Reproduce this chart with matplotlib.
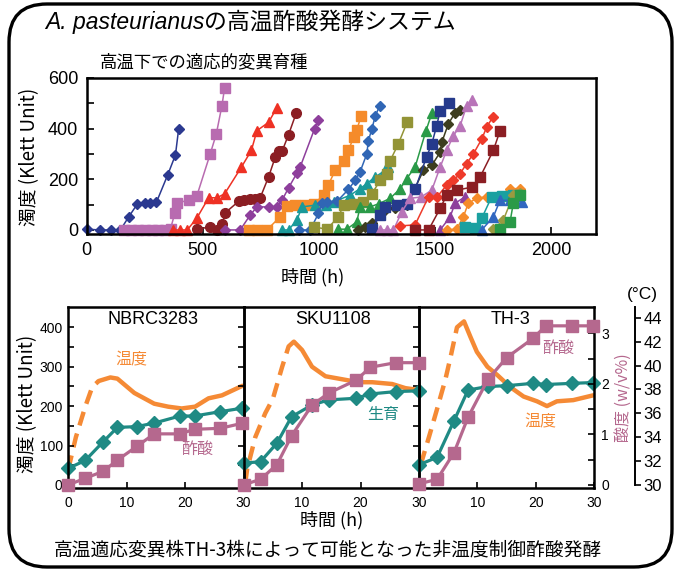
import matplotlib
matplotlib.use("Agg")
import matplotlib.pyplot as plt
from matplotlib.patches import FancyBboxPatch
from matplotlib.transforms import IdentityTransform

W, H = 678, 570
LAT = ['Liberation Sans', 'Noto Sans CJK JP']
JP = ['Noto Sans CJK JP', 'Liberation Sans']
plt.rcParams['font.family'] = LAT

# ---------------- top chart: adaptive breeding lines (hours, Klett) ----------------
s01_h = [3, 57, 105, 146, 182, 218, 254, 275, 301, 350, 383, 397]
s01_k = [3, 0, 0, 0, 52, 101, 105, 105, 109, 218, 296, 400]
s02_h = [160, 190, 220, 250, 280, 310, 340, 362, 380, 390, 440, 475, 533, 559, 583, 595]
s02_k = [0, 0, 0, 0, 0, 0, 0, 5, 65, 107, 117, 134, 301, 379, 490, 562]
s03_h = [374, 404, 434, 476, 526, 562, 595, 667, 710, 734, 784, 820]
s03_k = [0, 0, 0, 48, 127, 127, 143, 248, 314, 392, 425, 483]
s04_h = [476, 533, 562, 584, 598, 655, 677, 705, 727, 748, 784, 813, 831, 842, 870, 903]
s04_k = [3, 12, 0, 22, 68, 113, 117, 121, 122, 127, 209, 288, 310, 310, 376, 461]
s05_h = [598, 662, 705, 734, 784, 820, 842, 870, 906, 920, 982, 999]
s05_k = [0, 0, 59, 91, 91, 91, 117, 166, 224, 248, 399, 434]
s06_h = [698, 734, 777, 834, 863, 900, 940, 978, 1021, 1042, 1071, 1107, 1128, 1150, 1164, 1183]
s06_k = [0, 0, 0, 52, 95, 99, 99, 102, 137, 179, 235, 274, 314, 366, 395, 451]
s07_h = [842, 870, 906, 928, 985, 1030, 1064, 1135, 1178, 1207, 1243, 1286, 1300]
s07_k = [0, 0, 39, 91, 98, 98, 111, 137, 163, 183, 209, 235, 250]
s08_h = [913, 963, 999, 1014, 1035, 1080, 1128, 1157, 1178, 1207, 1214, 1229, 1243, 1262]
s08_k = [0, 0, 65, 105, 111, 114, 160, 196, 229, 300, 353, 399, 448, 490]
s09_h = [978, 1035, 1085, 1107, 1150, 1190, 1229, 1265, 1293, 1308, 1343, 1382]
s09_k = [12, 3, 52, 98, 104, 109, 143, 196, 222, 274, 340, 428]
s10_h = [1085, 1121, 1164, 1178, 1221, 1260, 1308, 1351, 1379, 1415, 1462, 1487]
s10_k = [3, 3, 32, 91, 91, 104, 125, 163, 203, 248, 392, 460]
s11_h = [1171, 1200, 1229, 1286, 1330, 1380, 1451, 1487, 1523, 1530, 1558, 1587, 1609]
s11_k = [0, 10, 26, 78, 88, 99, 235, 255, 307, 346, 418, 463, 473]
s12_h = [1229, 1265, 1286, 1336, 1380, 1415, 1465, 1487, 1508, 1523, 1561]
s12_k = [3, 59, 91, 98, 104, 160, 290, 340, 411, 471, 501]
s13_h = [1265, 1293, 1322, 1358, 1394, 1440, 1487, 1523, 1551, 1580, 1609, 1637, 1662]
s13_k = [0, 0, 0, 72, 125, 130, 157, 248, 314, 372, 411, 490, 512]
s14_h = [1351, 1415, 1473, 1510, 1551, 1580, 1609, 1637, 1666, 1702, 1723, 1749]
s14_k = [16, 20, 131, 131, 177, 197, 222, 262, 300, 359, 405, 445]
s15_h = [1415, 1473, 1523, 1551, 1594, 1659, 1695, 1752, 1781]
s15_k = [0, 0, 85, 137, 157, 169, 209, 314, 392]
s16_h = [1523, 1566, 1587, 1630]
s16_k = [0, 52, 105, 131]
s17_h = [1551, 1594, 1623, 1644, 1680, 1723, 1780, 1824, 1867]
s17_k = [0, 3, 52, 105, 125, 131, 135, 163, 163]
s18_h = [1630, 1673, 1702, 1745, 1790, 1838]
s18_k = [12, 6, 46, 131, 135, 137]
s19_h = [1702, 1752, 1781, 1824, 1874]
s19_k = [0, 52, 117, 117, 111]
s20_h = [1752, 1795, 1838, 1867]
s20_k = [3, 39, 137, 145]
s21_h = [1781, 1824, 1838, 1867]
s21_k = [3, 32, 105, 137]

top_x_ticks = [0, 500, 1000, 1500, 2000]
top_y_ticks = [0, 200, 400, 600]

# ---------------- bottom panels: fermentation profiles ----------------
strains = ['NBRC3283', 'SKU1108', 'TH-3']

t_nbrc = [0, 2.9, 6.0, 8.4, 11.7, 14.7, 19.1, 21.6, 26.0, 29.8]
growth_nbrc = [42, 62, 110, 146, 148, 157, 175, 175, 186, 195]
acid_nbrc = [0.0, 0.13, 0.27, 0.49, 0.76, 1.01, 1.01, 1.10, 1.12, 1.22]
temp_t_nbrc = [0.0, 1.3, 2.9, 4.1, 5.2, 7.2, 8.4, 11.3, 14.7, 17.1, 19.4, 21.7, 24.0, 26.3, 29.8]
temp_nbrc = [31.3, 34.0, 36.55, 38.2, 38.7, 39.0, 38.9, 37.7, 36.8, 36.55, 36.4, 36.55, 37.25, 37.5, 38.3]

t_sku = [0, 2.9, 5.7, 8.2, 11.7, 14.6, 19.2, 21.7, 26.0, 30.0]
growth_sku = [55, 59, 106, 173, 203, 216, 220, 231, 237, 239]
acid_sku = [0.0, 0.11, 0.40, 0.97, 1.58, 1.82, 2.07, 2.33, 2.42, 2.42]
temp_t_sku = [0.3, 0.6, 2.0, 3.7, 5.0, 6.6, 7.7, 8.6, 10.0, 11.7, 14.0, 17.4, 19.7, 22.0, 25.4, 27.7, 30.0]
temp_sku = [30.2, 31.3, 34.0, 36.0, 37.2, 39.9, 41.6, 42.0, 41.3, 39.9, 39.1, 38.8, 38.6, 38.6, 38.45, 38.1, 37.95]

t_th3 = [0, 3.1, 6.0, 8.4, 11.8, 15.0, 19.5, 21.7, 26.2, 29.8]
growth_th3 = [51, 70, 163, 241, 250, 252, 258, 255, 258, 260]
acid_th3 = [0.02, 0.11, 0.64, 1.34, 2.09, 2.52, 2.90, 3.15, 3.15, 3.15]
temp_t_th3 = [0.3, 1.7, 3.0, 4.5, 5.4, 6.5, 7.7, 8.8, 9.9, 11.7, 13.4, 15.6, 17.9, 20.2, 21.9, 23.6, 26.4, 29.8]
temp_th3 = [31.7, 34.0, 36.2, 38.8, 40.7, 43.2, 43.7, 42.4, 41.15, 39.9, 39.2, 38.2, 37.4, 37.0, 36.6, 37.0, 37.1, 37.5]

# controller ramps (dashed) end at these times
ramp_end = [5.2, 8.6, 7.7]

klett_ticks = [0, 100, 200, 300, 400]
acid_ticks = [0, 1, 2, 3]
temp_ticks = [30, 32, 34, 36, 38, 40, 42, 44]

C_GROWTH = '#1f8a84'
C_ACID = '#b5688e'
C_TEMP = '#f58a35'

fig = plt.figure(figsize=(W / 100, H / 100), dpi=100)


def box(l, t, r, b):
    return [l / W, 1 - b / H, (r - l) / W, (b - t) / H]


def ftext(x, y, s, **kw):
    return fig.text(x / W, 1 - y / H, s, **kw)


# rounded frame
frame = FancyBboxPatch((9, 3), 663, 563, boxstyle="round,pad=0,rounding_size=38",
                       transform=IdentityTransform(), fill=False, ec='black', lw=2.4)
fig.patches.append(frame)

# ---------- top chart ----------
ax = fig.add_axes(box(86.5, 78, 595.5, 234))
series = [
    (s01_h, s01_k, 'D', '#2b3990', 5.5),
    (s02_h, s02_k, 's', '#b86bb0', 6.5),
    (s03_h, s03_k, '^', '#ee3124', 7.5),
    (s04_h, s04_k, 'o', '#8b1e23', 7.0),
    (s05_h, s05_k, 'D', '#8e3f9c', 5.5),
    (s06_h, s06_k, 's', '#f58b2a', 6.5),
    (s07_h, s07_k, '^', '#1a9a9a', 7.5),
    (s08_h, s08_k, 'D', '#3066b5', 5.5),
    (s09_h, s09_k, 's', '#939436', 6.5),
    (s10_h, s10_k, '^', '#2a9a48', 7.5),
    (s11_h, s11_k, 'D', '#3d3d1f', 5.5),
    (s12_h, s12_k, 's', '#253a8c', 6.5),
    (s13_h, s13_k, '^', '#b874b8', 7.5),
    (s14_h, s14_k, 'D', '#ee3a2a', 5.5),
    (s15_h, s15_k, 's', '#8b1e23', 6.5),
    (s16_h, s16_k, '^', '#8e3f9c', 7.5),
    (s17_h, s17_k, 'D', '#f58b2a', 5.5),
    (s18_h, s18_k, 's', '#1aa0a0', 6.5),
    (s19_h, s19_k, '^', '#3066c0', 7.5),
    (s20_h, s20_k, 'D', '#9a9a40', 5.5),
    (s21_h, s21_k, 's', '#2a9a48', 6.5),
]
for hx, ky, mk, col, ms in series:
    ax.plot(hx, ky, marker=mk, color=col, ms=ms, lw=1.1, mec=col, mfc=col, clip_on=False)
ax.set_xlim(0, 2192)
ax.set_ylim(-16, 600)
ax.set_xticks(top_x_ticks)
ax.set_yticks(top_y_ticks)
ax.set_yticks([100, 300, 500], minor=True)
ax.tick_params(direction='in', length=5, width=1.2, labelsize=13, pad=6)
ax.tick_params(which='minor', direction='in', length=5, width=1.2)
for sp in ax.spines.values():
    sp.set_linewidth(1.8)

# ---------- bottom panels ----------
lefts = [68.3, 243.6, 419.0, 594.3]
growths = [growth_nbrc, growth_sku, growth_th3]
acids = [acid_nbrc, acid_sku, acid_th3]
times = [t_nbrc, t_sku, t_th3]
temp_ts = [temp_t_nbrc, temp_t_sku, temp_t_th3]
temps = [temp_nbrc, temp_sku, temp_th3]
title_x = [14.5, 15.3, 15.6]

K_LO, K_HI = -8, 452
K_PER_ACID = 128.3
K_PER_DEG = 30.33

for i in range(3):
    a = fig.add_axes(box(lefts[i], 307, lefts[i + 1], 488))
    tax = a.twinx()
    cax = a.twinx()
    a.set_zorder(2)
    a.patch.set_visible(False)
    tax.set_zorder(1)
    cax.set_zorder(3)

    a.set_xlim(0, 30)
    a.set_ylim(K_LO, K_HI)
    cax.set_ylim(K_LO / K_PER_ACID, K_HI / K_PER_ACID)
    tax.set_ylim(30 + K_LO / K_PER_DEG, 30 + K_HI / K_PER_DEG)

    # temperature: dashed ramp, then solid
    tt, tv = temp_ts[i], temps[i]
    ramp = [j for j, x in enumerate(tt) if x <= ramp_end[i]]
    n = ramp[-1] + 1
    tax.plot(tt[:n], tv[:n], color=C_TEMP, lw=3.2, dashes=(3.2, 1.9), solid_capstyle='butt')
    tax.plot(tt[n - 1:], tv[n - 1:], color=C_TEMP, lw=3.2, solid_capstyle='round')

    a.plot(times[i], growths[i], color=C_GROWTH, lw=2.3, marker='D', ms=7.5, mec=C_GROWTH,
           mfc=C_GROWTH, clip_on=False)
    cax.plot(times[i], acids[i], color=C_ACID, lw=2.3, marker='s', ms=9, mec=C_ACID,
             mfc=C_ACID, clip_on=False)

    a.text(title_x[i], 419, strains[i], ha='center', va='center', fontsize=13)

    # x ticks
    a.set_xticks([0, 10, 20, 30] if i == 0 else [10, 20, 30])
    a.tick_params(axis='x', direction='in', length=4, width=1.2, labelsize=10, pad=6)

    # y ticks
    a.set_yticks(klett_ticks)
    a.set_yticks([50, 150, 250, 350], minor=True)
    if i == 0:
        a.tick_params(axis='y', which='both', direction='in', length=4, width=1.2,
                      left=True, right=True, labelleft=True, labelsize=10, pad=4)
    elif i == 1:
        a.tick_params(axis='y', which='both', direction='in', length=4, width=1.2,
                      left=False, right=True, labelleft=False)
    else:
        a.tick_params(axis='y', which='both', left=False, right=False, labelleft=False)

    for sp in a.spines.values():
        sp.set_linewidth(1.8)
    for sp in tax.spines.values():
        sp.set_visible(False)
    for sp in cax.spines.values():
        sp.set_visible(False)
    tax.set_yticks([])
    cax.set_yticks([])

    if i == 2:
        cax.set_yticks(acid_ticks)
        cax.set_yticks([0.5, 1.5, 2.5], minor=True)
        cax.tick_params(axis='y', which='both', direction='in', length=4, width=1.2,
                        labelsize=10, pad=5)
        cax.set_ylabel('酸度 (w/v%)', color=C_ACID, fontsize=11.5, family=JP, labelpad=4)

        tax.spines['right'].set_visible(True)
        tax.spines['right'].set_position(('outward', 29.3))
        tax.spines['right'].set_linewidth(1.4)
        tax.spines['right'].set_bounds(30, 44.9)
        tax.set_yticks(temp_ticks)
        tax.tick_params(axis='y', direction='out', length=4, width=1.2, labelsize=12, pad=2)

    if i == 0:
        a.text(10.8, 318, '温度', color=C_TEMP, fontsize=11.5, family=JP, ha='center', va='center')
        a.text(22.0, 89, '酢酸', color=C_ACID, fontsize=11.5, family=JP, ha='center', va='center')
    elif i == 1:
        a.text(23.8, 178, '生育', color=C_GROWTH, fontsize=11.5, family=JP, ha='center', va='center')
    else:
        a.text(23.8, 347, '酢酸', color=C_ACID, fontsize=11.5, family=JP, ha='center', va='center')
        a.text(20.7, 161, '温度', color=C_TEMP, fontsize=11.5, family=JP, ha='center', va='center')

# ---------- texts ----------
title_a = ftext(45, 22, 'A. pasteurianus', fontsize=16.5, style='italic',
                family='Liberation Sans', va='center', ha='left')
fig.canvas.draw()
ext = title_a.get_window_extent()
fig.text(ext.x1 / W, 1 - 22 / H, 'の高温酢酸発酵システム', fontsize=16.5, family=JP,
         va='center', ha='left')

ftext(100, 62, '高温下での適応的変異育種', fontsize=12.5, family=JP, va='center', ha='left')
ftext(30, 157, '濁度 (Klett Unit)', fontsize=13.5, family=JP, rotation=90, va='center', ha='center')
ftext(313, 277, '時間 (h)', fontsize=13, family=JP, va='center', ha='center')
ftext(28, 404, '濁度 (Klett Unit)', fontsize=13.5, family=JP, rotation=90, va='center', ha='center')
ftext(332, 520, '時間 (h)', fontsize=13, family=JP, va='center', ha='center')
ftext(642, 294, '(°C)', fontsize=12.5, va='center', ha='center')
ftext(328, 550, '高温適応変異株TH-3株によって可能となった非温度制御酢酸発酵', fontsize=13.5,
      family=JP, va='center', ha='center')

fig.savefig('out.png', dpi=100)
